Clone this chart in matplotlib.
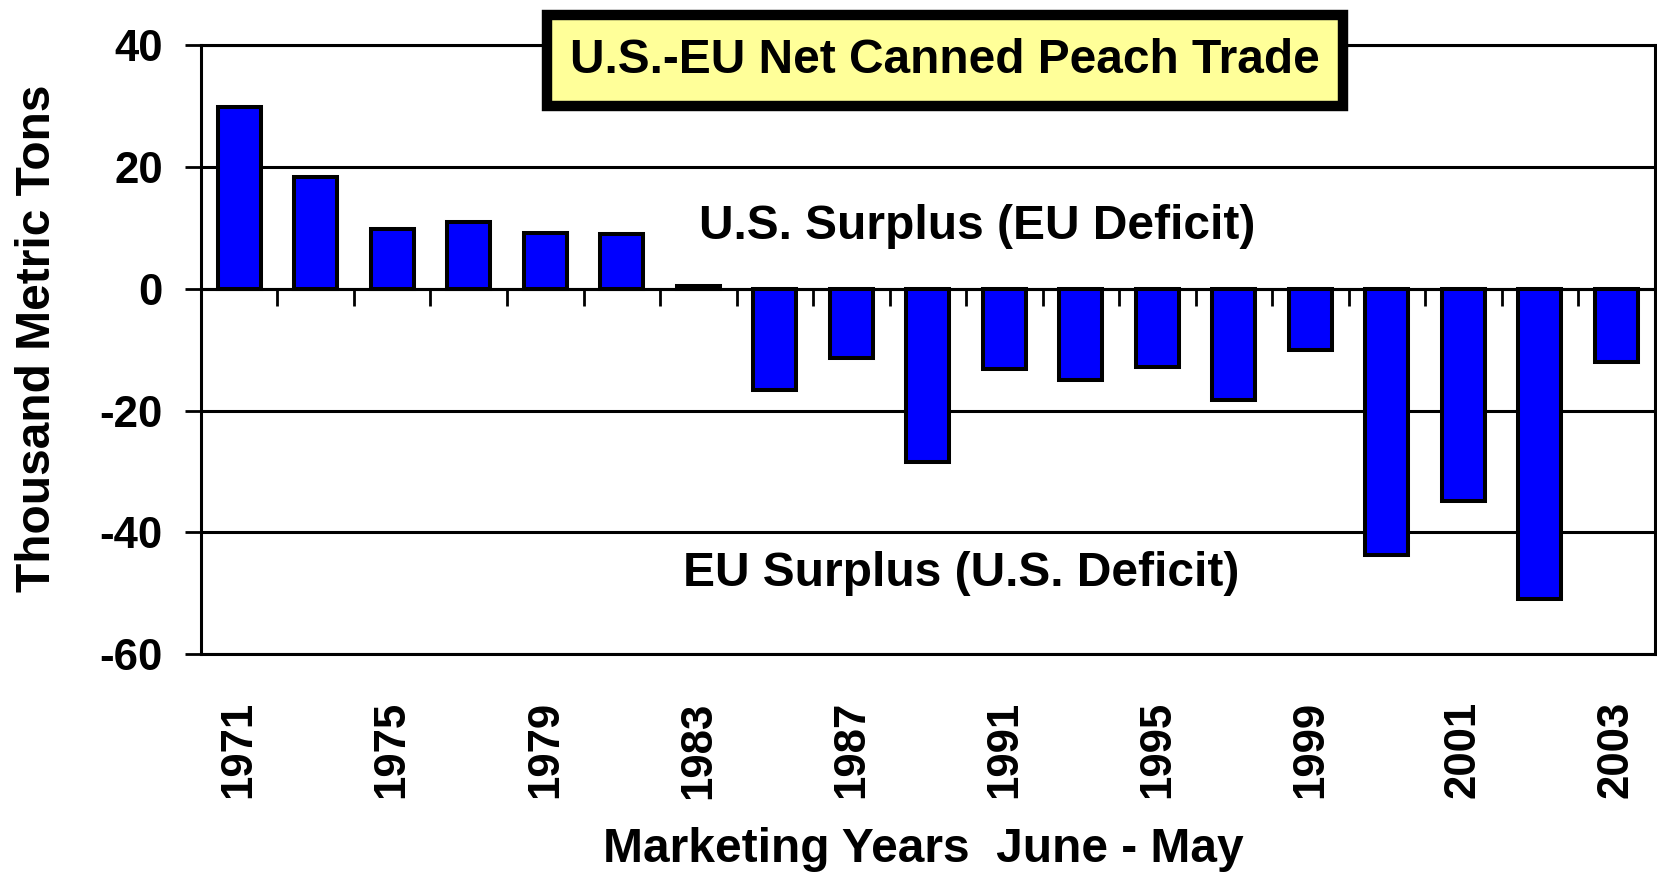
import matplotlib
matplotlib.use("Agg")
import matplotlib.pyplot as plt
import numpy as np

# marketing years (June - May), one bar each
years = ['1971', '1973', '1975', '1977', '1979', '1981', '1983', '1985', '1987', '1989',
         '1991', '1993', '1995', '1997', '1999', '2000', '2001', '2002', '2003']
net_trade = [29.8, 18.4, 9.8, 10.9, 9.2, 9.0, 0.5, -16.6, -11.3, -28.5,
             -13.1, -15.0, -12.8, -18.2, -10.1, -43.8, -34.9, -50.9, -12.0]
y_ticks = [-60, -40, -20, 0, 20, 40]

plt.rcParams['font.family'] = ['Liberation Sans', 'DejaVu Sans']
plt.rcParams['font.weight'] = 'bold'

fig = plt.figure(figsize=(16.58, 8.72), dpi=100)
ax = fig.add_axes([0.1212, 0.25, 0.8768, 0.698])

x = np.arange(len(years))
ax.bar(x, net_trade, width=0.56, color='#0000FF', edgecolor='black', linewidth=2.9, zorder=3)

ax.set_xlim(-0.5, len(years) - 0.5)
ax.set_ylim(-60, 40)
ax.set_yticks(y_ticks)
ax.set_yticklabels([str(v) for v in y_ticks])
ax.tick_params(axis='y', direction='out', length=11.5, width=2, labelsize=31.5, pad=16)

# label every other year at the bottom, no tick marks there
ax.set_xticks(x[::2])
ax.set_xticklabels(years[::2], rotation=90, fontsize=31.5)
ax.tick_params(axis='x', length=0, pad=34)

ax.yaxis.grid(True, color='black', linewidth=2.2, zorder=1)
ax.set_axisbelow(True)
for s in ax.spines.values():
    s.set_linewidth(2.2)

# category axis crossing at zero, tick marks between categories
zero_ax = ax.secondary_xaxis(0, transform=ax.transData)
zero_ax.set_xticks(x[:-1] + 0.5)
zero_ax.tick_params(direction='out', length=12, width=2, labelbottom=False)
zero_ax.spines['bottom'].set_linewidth(2.2)

ax.set_ylabel('Thousand Metric Tons', fontsize=34.5, fontweight='bold')
ax.yaxis.set_label_coords(-0.097, 0.519)
ax.set_xlabel('Marketing Years  June - May', fontsize=34.5, fontweight='bold')
ax.xaxis.set_label_coords(0.497, -0.284)

ax.text(9.65, 10.3, 'U.S. Surplus (EU Deficit)', fontsize=34.5, fontweight='bold',
        ha='center', va='center', zorder=5)
ax.text(9.44, -46.7, 'EU Surplus (U.S. Deficit)', fontsize=34.5, fontweight='bold',
        ha='center', va='center', zorder=5)

fig.text(0.570, 0.931, 'U.S.-EU Net Canned Peach Trade', fontsize=34.5, fontweight='bold',
         ha='center', va='center', zorder=10,
         bbox=dict(boxstyle='square,pad=0.48', facecolor='#FFFF99', edgecolor='black', linewidth=7.5))

fig.savefig('out.png', dpi=100)
